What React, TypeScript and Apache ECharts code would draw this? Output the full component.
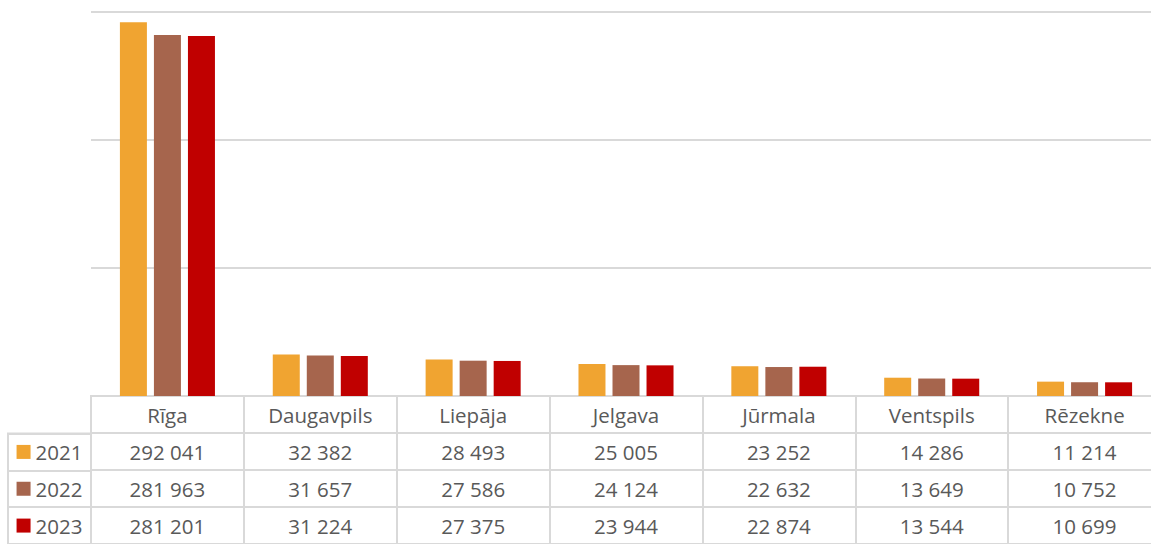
import React, { useEffect, useRef } from "react";
import * as echarts from "echarts";

const categories = ["Rīga", "Daugavpils", "Liepāja", "Jelgava", "Jūrmala", "Ventspils", "Rēzekne"];
const years = ["2021", "2022", "2023"];
const values2021 = [292041, 32382, 28493, 25005, 23252, 14286, 11214];
const values2022 = [281963, 31657, 27586, 24124, 22632, 13649, 10752];
const values2023 = [281201, 31224, 27375, 23944, 22874, 13544, 10699];
const yTicks = { min: 0, max: 300000, interval: 100000 };
const colors = ["#F0A431", "#A6654D", "#C00000"];

const allValues = [values2021, values2022, values2023];
const fmt = (v: number) => String(v).replace(/\B(?=(\d{3})+(?!\d))/g, " ");

const LINE = "#D9D9D9";
const TEXT = "#595959";
const FONT = "Open Sans";
const FS = 20.5;

export default function App() {
  const ref = useRef<HTMLDivElement>(null);
  useEffect(() => {
    if (!ref.current) return;
    const chart = echarts.init(ref.current, undefined, { renderer: "svg" });
    const barSeries = years.map((y, i) => ({
      name: y,
      type: "bar",
      xAxisIndex: 0,
      yAxisIndex: 0,
      data: allValues[i],
      barWidth: 27,
      barGap: "26%",
      itemStyle: { color: colors[i] },
    }));
    const headerSeries = {
      type: "scatter",
      xAxisIndex: 1,
      yAxisIndex: 1,
      symbolSize: 0,
      silent: true,
      itemStyle: { opacity: 1 },
      data: categories.map((c, j) => ({ value: [j, 0], name: c })),
      label: {
        show: true,
        position: "inside",
        formatter: (p: any) => p.name,
        color: TEXT,
        fontFamily: FONT,
        fontSize: FS,
      },
    };
    const cellSeries = years.map((y, i) => ({
      type: "scatter",
      xAxisIndex: 1,
      yAxisIndex: 1,
      symbolSize: 0,
      silent: true,
      itemStyle: { opacity: 1 },
      data: allValues[i].map((v, j) => ({ value: [j, i + 1, v] })),
      label: {
        show: true,
        position: "inside",
        formatter: (p: any) => fmt(p.value[2]),
        color: TEXT,
        fontFamily: FONT,
        fontSize: FS,
      },
    }));
    const rowHeadSeries = {
      type: "scatter",
      xAxisIndex: 2,
      yAxisIndex: 2,
      symbolSize: 0,
      silent: true,
      itemStyle: { opacity: 1 },
      data: years.map((y, i) => ({ value: [0, i], name: y })),
      label: {
        show: true,
        position: "inside",
        formatter: (p: any) => `{s${p.dataIndex}|}{t|${p.name}}`,
        rich: {
          s0: { width: 14, height: 14, backgroundColor: colors[0] },
          s1: { width: 14, height: 14, backgroundColor: colors[1] },
          s2: { width: 14, height: 14, backgroundColor: colors[2] },
          t: { color: TEXT, fontFamily: FONT, fontSize: FS, padding: [0, 0, 0, 5] },
        },
      },
    };
    chart.setOption({
      animation: false,
      backgroundColor: "#FFFFFF",
      grid: [
        { left: 91, top: 12, width: 1070, height: 384, show: false },
        { left: 91, top: 396, width: 1070, height: 150, show: true, borderColor: LINE, borderWidth: 2 },
        { left: 8, top: 433.5, width: 83, height: 112.5, show: true, borderColor: LINE, borderWidth: 2 },
      ],
      xAxis: [
        {
          type: "category",
          gridIndex: 0,
          data: categories,
          axisLine: { show: false },
          axisTick: { show: false },
          axisLabel: { show: false },
        },
        {
          type: "category",
          gridIndex: 1,
          data: categories,
          axisLine: { show: false },
          axisTick: { show: false },
          axisLabel: { show: false },
          splitLine: { show: true, interval: 0, lineStyle: { color: LINE, width: 2 } },
        },
        {
          type: "category",
          gridIndex: 2,
          data: ["h"],
          axisLine: { show: false },
          axisTick: { show: false },
          axisLabel: { show: false },
        },
      ],
      yAxis: [
        {
          type: "value",
          gridIndex: 0,
          min: yTicks.min,
          max: yTicks.max,
          interval: yTicks.interval,
          axisLine: { show: false },
          axisTick: { show: false },
          axisLabel: { show: false },
          splitLine: { show: true, lineStyle: { color: LINE, width: 2 } },
        },
        {
          type: "category",
          gridIndex: 1,
          inverse: true,
          data: ["", ...years],
          axisLine: { show: false },
          axisTick: { show: false },
          axisLabel: { show: false },
          splitLine: { show: true, interval: 0, lineStyle: { color: LINE, width: 2 } },
        },
        {
          type: "category",
          gridIndex: 2,
          inverse: true,
          data: years,
          axisLine: { show: false },
          axisTick: { show: false },
          axisLabel: { show: false },
          splitLine: { show: true, interval: 0, lineStyle: { color: LINE, width: 2 } },
        },
      ],
      series: [...barSeries, headerSeries, ...cellSeries, rowHeadSeries],
    });
    return () => chart.dispose();
  }, []);
  return (
    <div
      style={{ position: "fixed", left: 0, top: 0, width: 1151, height: 544, overflow: "hidden" }}
    >
      <div ref={ref} style={{ position: "absolute", left: 0, top: 0, width: 1170, height: 544 }} />
    </div>
  );
}
